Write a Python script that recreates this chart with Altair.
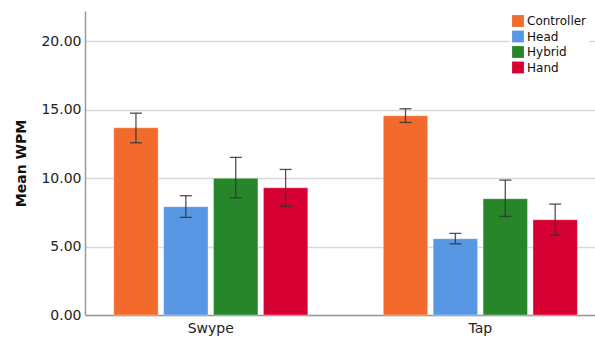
import altair as alt
import pandas as pd

# Mean words-per-minute by input method and gesture type, with error bar bounds
gestures = ["Swype", "Tap"]
methods = ["Controller", "Head", "Hybrid", "Hand"]
colors = ["#F26A2C", "#5897E4", "#28862A", "#D70033"]

swype_mean = [13.67, 7.91, 9.98, 9.29]
swype_low = [12.58, 7.13, 8.56, 7.93]
swype_high = [14.74, 8.71, 11.51, 10.63]

tap_mean = [14.55, 5.57, 8.49, 6.96]
tap_low = [14.06, 5.20, 7.20, 5.84]
tap_high = [15.06, 5.96, 9.85, 8.10]

rows = []
for g, means, lows, highs in [
    ("Swype", swype_mean, swype_low, swype_high),
    ("Tap", tap_mean, tap_low, tap_high),
]:
    for m, v, lo, hi in zip(methods, means, lows, highs):
        rows.append({"gesture": g, "method": m, "mean": v, "lo": lo, "hi": hi})
df = pd.DataFrame(rows)

FONT = "DejaVu Sans"

x_enc = alt.X(
    "gesture:N",
    sort=gestures,
    scale=alt.Scale(paddingInner=0.28, paddingOuter=0.086, align=0.62),
    axis=alt.Axis(
        title=None,
        labelAngle=0,
        labelFontSize=14,
        labelColor="#222222",
        labelFont=FONT,
        labelPadding=6,
        ticks=False,
        domainColor="#9a9a9a",
        domainWidth=1.5,
    ),
)
xo_enc = alt.XOffset(
    "method:N", sort=methods, scale=alt.Scale(paddingInner=0.11, paddingOuter=0)
)
y_scale = alt.Scale(domain=[0, 22.2], nice=False)

bars = alt.Chart(df).mark_bar(
    stroke="white", strokeOpacity=0.35, strokeWidth=1
).encode(
    x=x_enc,
    xOffset=xo_enc,
    y=alt.Y(
        "mean:Q",
        scale=y_scale,
        axis=alt.Axis(
            title="Mean WPM",
            titleFont=FONT,
            titleFontSize=14,
            titleFontWeight="bold",
            titleColor="#111111",
            titlePadding=12,
            values=[0, 5, 10, 15, 20],
            format=".2f",
            labelFont=FONT,
            labelFontSize=14,
            labelColor="#222222",
            labelPadding=4,
            ticks=False,
            grid=True,
            gridColor="#d9d9d9",
            gridWidth=1.5,
            domainColor="#9a9a9a",
            domainWidth=1.5,
        ),
    ),
    color=alt.Color(
        "method:N",
        sort=methods,
        scale=alt.Scale(domain=methods, range=colors),
        legend=alt.Legend(
            title=None,
            orient="none",
            legendX=425,
            legendY=2,
            symbolType="square",
            symbolSize=140,
            symbolStrokeWidth=0,
            symbolOpacity=1,
            labelFont=FONT,
            labelFontSize=12,
            labelColor="#111111",
            labelOffset=3,
            rowPadding=3.5,
            fillColor="white",
            padding=2,
        ),
    ),
)

err = alt.Chart(df).mark_rule(color="#333333", strokeWidth=1.3, opacity=0.85).encode(
    x=x_enc, xOffset=xo_enc, y=alt.Y("lo:Q", scale=y_scale), y2="hi:Q"
)
cap_hi = alt.Chart(df).mark_tick(
    orient="horizontal", size=12, thickness=1.3, color="#333333", opacity=0.85
).encode(x=x_enc, xOffset=xo_enc, y=alt.Y("hi:Q", scale=y_scale))
cap_lo = alt.Chart(df).mark_tick(
    orient="horizontal", size=12, thickness=1.3, color="#333333", opacity=0.85
).encode(x=x_enc, xOffset=xo_enc, y=alt.Y("lo:Q", scale=y_scale))

chart = (
    alt.layer(bars, err, cap_hi, cap_lo)
    .properties(
        width=510,
        height=304,
        autosize=alt.AutoSizeParams(type="none"),
        padding={"left": 85, "top": 11, "right": 0, "bottom": 23},
        background="white",
    )
    .configure_view(stroke=None)
)

chart.save("out.html", embed_options={"renderer": "svg", "actions": False})
